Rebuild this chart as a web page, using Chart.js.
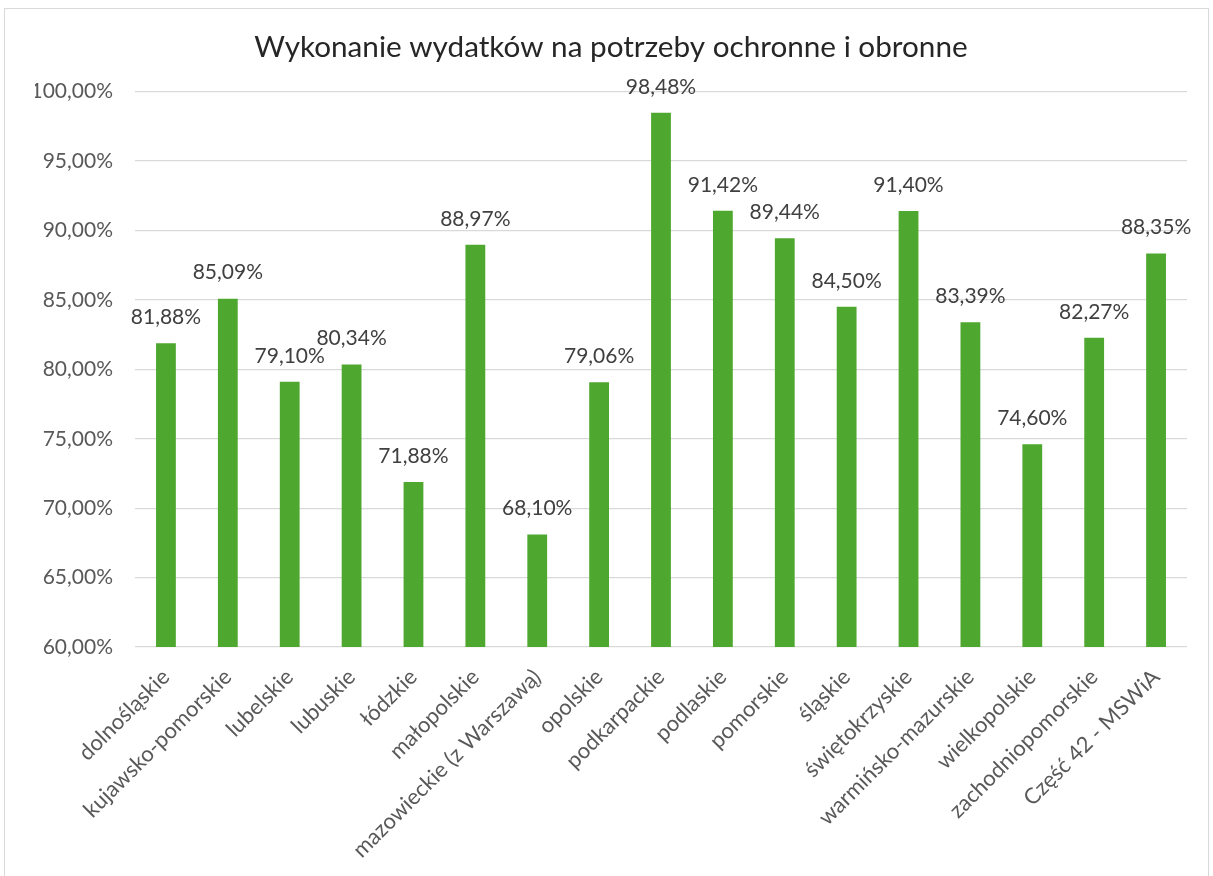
<!DOCTYPE html>
<html>
<head>
<meta charset="utf-8">
<script src="https://cdn.jsdelivr.net/npm/chart.js@4"></script>
<style>
    body { margin: 0; background: #ffffff; }
    #frame { position: absolute; left: 4px; top: 8px; width: 1203px; height: 900px; border: 1px solid #d9d9d9; }
    #wrap { position: absolute; left: 0; top: 0; width: 1213px; height: 876px; overflow: hidden; }
</style>
</head>
<body>
<div id="wrap">
    <div id="frame"></div>
    <canvas id="wydatki_Chart" width="1213" height="876" style="position:absolute;left:0;top:0;"></canvas>
</div>
<script>
// kategorie (województwa)
const labels = ['dolnośląskie', 'kujawsko-pomorskie', 'lubelskie', 'lubuskie', 'łódzkie', 'małopolskie',
    'mazowieckie (z Warszawą)', 'opolskie', 'podkarpackie', 'podlaskie', 'pomorskie', 'śląskie',
    'świętokrzyskie', 'warmińsko-mazurskie', 'wielkopolskie', 'zachodniopomorskie', 'Część 42 - MSWiA'];

// wykonanie w %
const values = [81.88, 85.09, 79.10, 80.34, 71.88, 88.97, 68.10, 79.06, 98.48, 91.42, 89.44, 84.50,
    91.40, 83.39, 74.60, 82.27, 88.35];

const title = 'Wykonanie wydatków na potrzeby ochronne i obronne';

function fmt(v){
    return v.toFixed(2).replace('.', ',') + '%';
}

// etykiety nad słupkami
const barLabels = {
    id: 'barLabels',
    afterDatasetsDraw(chart){
        const ctx = chart.ctx;
        const meta = chart.getDatasetMeta(0);
        ctx.save();
        ctx.font = '21px Lato';
        ctx.fillStyle = '#404040';
        ctx.textAlign = 'center';
        ctx.textBaseline = 'middle';
        meta.data.forEach((bar, i) => {
            ctx.fillText(fmt(values[i]), bar.x, bar.y - 26);
        });
        ctx.restore();
    }
};

const ctx = document.getElementById('wydatki_Chart').getContext('2d');

const BarChart = new Chart(ctx, {
    type: 'bar',
    data: {
        labels: labels,
        datasets: [{
            data: values,
            backgroundColor: '#4ea72e',
            borderWidth: 0,
            barPercentage: 0.64,
            categoryPercentage: 0.5
        }]
    },
    options: {
        responsive: false,
        animation: false,
        layout: {
            padding: { left: 35, right: 26, top: 0, bottom: 0 }
        },
        scales: {
            x: {
                grid: { display: false },
                border: { display: false },
                ticks: {
                    minRotation: 45,
                    maxRotation: 45,
                    padding: 9,
                    color: '#595959',
                    font: { size: 22, family: 'Lato' }
                },
                afterFit: s => { s.height = 229; }
            },
            y: {
                min: 60,
                max: 100,
                grid: { color: '#d9d9d9', lineWidth: 1.3, drawTicks: false },
                border: { display: false },
                ticks: {
                    stepSize: 5,
                    padding: 22,
                    color: '#595959',
                    font: { size: 21, family: 'Lato' },
                    callback: v => fmt(v)
                },
                afterFit: s => { s.width = 100; }
            }
        },
        plugins: {
            legend: { display: false },
            tooltip: { enabled: false },
            title: {
                display: true,
                text: title,
                color: '#262626',
                font: { size: 29.7, family: 'Lato', weight: 'normal' },
                padding: { top: 30, bottom: 26 }
            }
        }
    },
    plugins: [barLabels]
});
</script>
</body>
</html>
